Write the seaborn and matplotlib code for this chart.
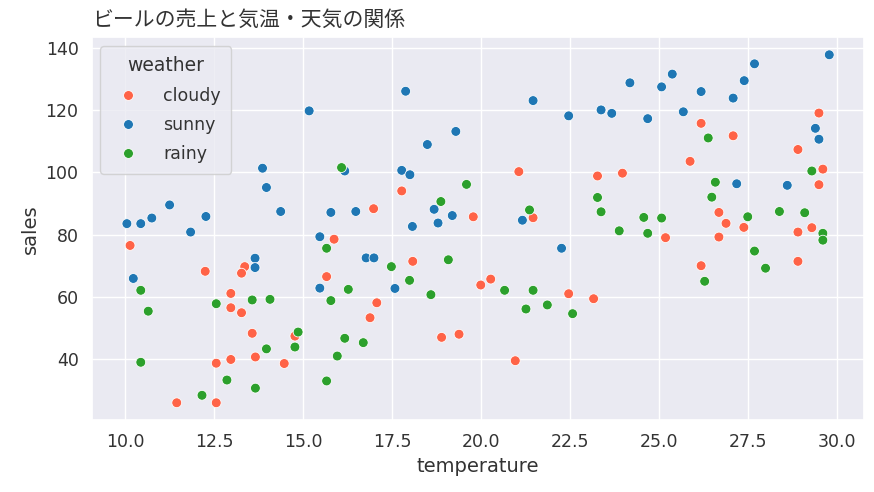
import pandas as pd
import seaborn as sns
import matplotlib
matplotlib.use("Agg")
import matplotlib.pyplot as plt

# readings (temperature, sales) per weather
cloudy_temp = [17.77, 16.98, 19.78, 15.87, 10.14, 13.36, 13.27, 12.25, 18.08, 15.66,
               19.99, 20.27, 12.97, 12.97, 13.27, 17.07, 16.88, 13.57, 14.77, 18.89,
               19.38, 12.56, 12.97, 13.66, 14.47, 11.45, 12.56, 29.49, 26.18, 27.08,
               28.90, 25.87, 21.06, 23.27, 23.97, 29.60, 29.49, 21.46, 26.68, 26.88,
               27.38, 29.29, 28.90, 25.18, 26.68, 28.90, 26.18, 22.46, 23.16, 20.96]
cloudy_sales = [94.0, 88.3, 85.7, 78.5, 76.5, 69.7, 67.6, 68.2, 71.4, 66.5,
                63.8, 65.7, 61.1, 56.5, 54.9, 58.1, 53.3, 48.3, 47.4, 47.0,
                48.0, 38.7, 39.9, 40.7, 38.6, 26.0, 26.0, 119.0, 115.7, 111.7,
                107.3, 103.5, 100.2, 98.8, 99.7, 101.0, 96.0, 85.4, 87.1, 83.6,
                82.3, 82.2, 80.8, 79.0, 79.2, 71.4, 70.0, 61.0, 59.4, 39.5]

sunny_temp = [17.88, 15.17, 19.29, 18.49, 13.86, 16.17, 17.77, 18.00, 13.97, 14.37,
              15.78, 16.48, 18.68, 19.19, 18.07, 18.79, 10.05, 10.44, 10.75, 11.25,
              12.27, 11.84, 15.47, 13.65, 13.65, 16.77, 16.99, 10.23, 15.47, 17.58,
              29.78, 27.68, 27.39, 25.37, 24.18, 25.07, 26.18, 27.08, 21.46, 22.46,
              23.37, 23.67, 24.68, 25.68, 29.39, 29.49, 27.18, 28.60, 21.16, 22.26]
sunny_sales = [126.0, 119.7, 113.1, 108.9, 101.3, 100.4, 100.6, 99.2, 95.1, 87.4,
               87.1, 87.4, 88.1, 86.1, 82.6, 83.7, 83.5, 83.5, 85.3, 89.5,
               85.8, 80.8, 79.3, 72.4, 69.4, 72.5, 72.5, 65.9, 62.8, 62.7,
               137.7, 134.8, 129.4, 131.5, 128.7, 127.4, 125.9, 123.8, 123.0, 118.1,
               120.0, 118.9, 117.2, 119.4, 114.1, 110.6, 96.3, 95.8, 84.6, 75.6]

rainy_temp = [16.08, 19.59, 18.87, 15.66, 17.48, 19.08, 10.44, 16.27, 17.99, 18.59,
              12.56, 13.57, 14.07, 15.78, 10.65, 14.86, 14.77, 13.97, 16.17, 16.69,
              15.96, 10.44, 12.86, 13.66, 15.66, 12.16, 26.38, 29.29, 26.58, 23.27,
              26.48, 21.36, 23.37, 24.57, 25.07, 27.49, 28.38, 29.09, 29.60, 23.88,
              24.68, 29.60, 27.68, 27.99, 26.28, 20.66, 21.46, 21.26, 21.86, 22.57]
rainy_sales = [101.5, 96.1, 90.6, 75.6, 69.7, 71.9, 62.1, 62.4, 65.3, 60.7,
               57.8, 59.0, 59.2, 58.8, 55.4, 48.7, 43.9, 43.3, 46.7, 45.3,
               41.0, 39.0, 33.3, 30.7, 33.0, 28.4, 111.0, 100.4, 96.8, 91.9,
               92.0, 87.9, 87.3, 85.5, 85.3, 85.7, 87.4, 87.0, 80.4, 81.2,
               80.4, 78.2, 74.7, 69.2, 65.0, 62.1, 62.1, 56.1, 57.4, 54.6]

weather_order = ["cloudy", "sunny", "rainy"]
colors = {"cloudy": "tomato", "sunny": "#1f77b4", "rainy": "#2ca02c"}

df = pd.concat([
    pd.DataFrame({"temperature": cloudy_temp, "sales": cloudy_sales, "weather": "cloudy"}),
    pd.DataFrame({"temperature": sunny_temp, "sales": sunny_sales, "weather": "sunny"}),
    pd.DataFrame({"temperature": rainy_temp, "sales": rainy_sales, "weather": "rainy"}),
], ignore_index=True)

sns.set_theme(style="darkgrid")
# latin text in DejaVu (wide, like the original), japanese falls back to Noto CJK
plt.rcParams["font.family"] = ["DejaVu Sans", "Noto Sans CJK JP"]
plt.rcParams["text.color"] = "#333333"
plt.rcParams["axes.labelcolor"] = "#333333"
plt.rcParams["xtick.color"] = "#333333"
plt.rcParams["ytick.color"] = "#333333"

fig = plt.figure(figsize=(8.74, 4.92), dpi=100)
ax = fig.add_axes([0.105, 0.146, 0.884, 0.778])
sns.scatterplot(data=df, x="temperature", y="sales", hue="weather",
                hue_order=weather_order, palette=colors, s=50, ax=ax)

ax.set_title("ビールの売上と気温・天気の関係", loc="left", fontsize=15, pad=8,
             family=["Noto Sans CJK JP", "DejaVu Sans"])
ax.set_xlabel("temperature", fontsize=14)
ax.set_ylabel("sales", fontsize=14)
ax.set_xticks([10.0, 12.5, 15.0, 17.5, 20.0, 22.5, 25.0, 27.5, 30.0])
ax.tick_params(labelsize=12.5)

leg = ax.legend(title="weather", loc="upper left", fontsize=12.5, title_fontsize=13.5,
                handletextpad=1.0, borderpad=0.6, labelspacing=0.65)

fig.savefig("out.png", dpi=100)
